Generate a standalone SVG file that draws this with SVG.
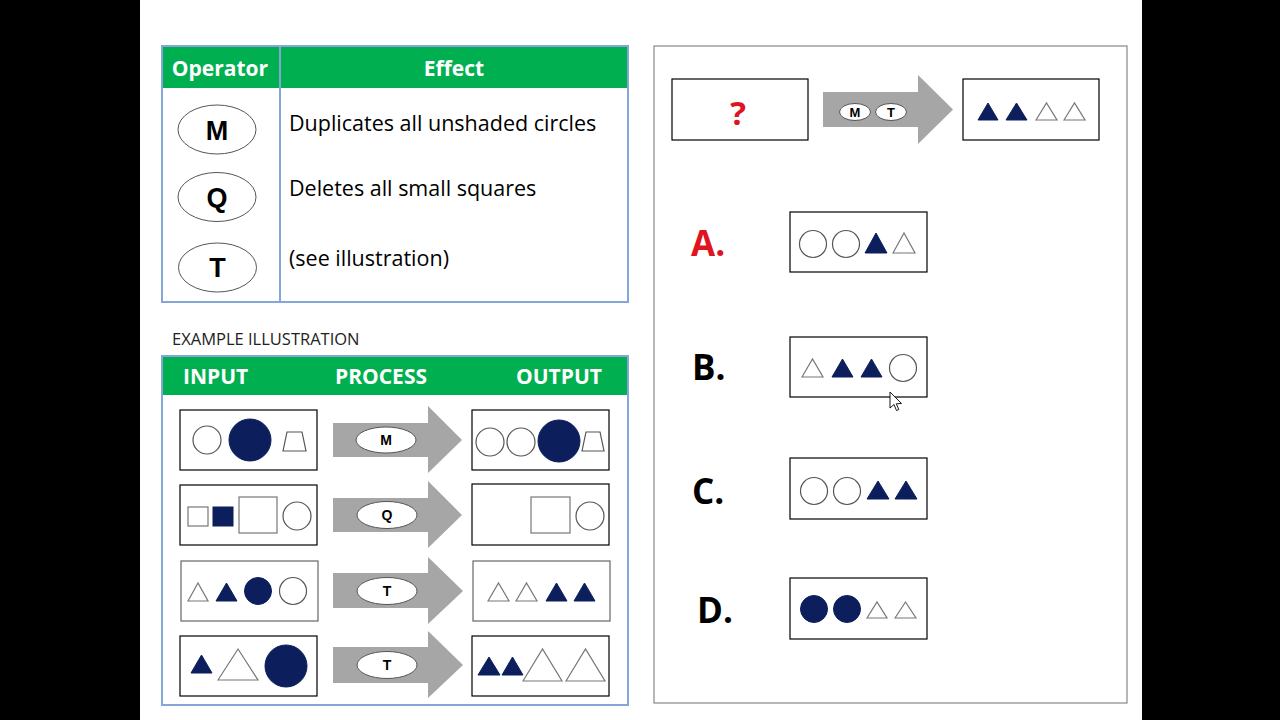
<svg xmlns="http://www.w3.org/2000/svg" width="1280" height="720" viewBox="0 0 1280 720">
<style>
.bar{fill:#000}
.tbl{fill:#fff;stroke:#86a5d8;stroke-width:2}
.hdr{fill:#00b050}
.ht{font-family:"Open Sans",sans-serif;font-weight:bold;fill:#fff;font-size:21px}
.op{fill:#fff;stroke:#555;stroke-width:1}
.opt{font-family:"Liberation Sans",Arial,sans-serif;font-weight:bold;fill:#000;text-anchor:middle}
.eff{font-family:"Open Sans",sans-serif;font-size:21.5px;fill:#000}
.box{fill:#fff;stroke:#000;stroke-width:1.2}
.gbox{fill:#fff;stroke:#666;stroke-width:1.2}
.arr{fill:#a6a6a6}
.nv{fill:#0c1f5c;stroke:#0c1f5c;stroke-width:1}
.op2{fill:#fff;stroke:#555;stroke-width:1.2}
.lt{fill:#fff;stroke:#777;stroke-width:1.2}
.let{font-family:"Open Sans",sans-serif;font-weight:bold;font-size:35px}
</style>
<rect width="1280" height="720" fill="#fff"/>
<rect class="bar" x="0" y="0" width="140" height="720"/>
<rect class="bar" x="1142" y="0" width="138" height="720"/>

<g id="operator-table">
<rect class="tbl" x="162" y="46" width="466" height="256"/>
<rect class="hdr" x="163" y="47" width="464" height="41"/>
<line x1="280" y1="47" x2="280" y2="301" stroke="#86a5d8" stroke-width="2"/>
<text class="ht" x="220" y="76" text-anchor="middle">Operator</text>
<text class="ht" x="454" y="76" text-anchor="middle">Effect</text>
<ellipse class="op" cx="217" cy="129.5" rx="39" ry="24.5"/>
<text class="opt" x="217" y="139.5" font-size="27">M</text>
<ellipse class="op" cx="217" cy="197" rx="39" ry="24.5"/>
<text class="opt" x="217" y="206.5" font-size="27">Q</text>
<ellipse class="op" cx="217.5" cy="267.5" rx="39" ry="24.5"/>
<text class="opt" x="217.5" y="277" font-size="27">T</text>
<text class="eff" x="289" y="131">Duplicates all unshaded circles</text>
<text class="eff" x="289" y="196">Deletes all small squares</text>
<text class="eff" x="289" y="266">(see illustration)</text>
</g>

<text id="example-label" x="172" y="345" font-family="Open Sans, sans-serif" font-size="16.5px" fill="#222">EXAMPLE ILLUSTRATION</text>

<g id="example-table">
<rect class="tbl" x="162" y="356" width="466" height="349"/>
<rect class="hdr" x="163" y="357" width="464" height="38"/>
<text class="ht" x="183" y="384">INPUT</text>
<text class="ht" x="381" y="384" text-anchor="middle">PROCESS</text>
<text class="ht" x="602" y="384" text-anchor="end">OUTPUT</text>
</g>

<g id="row1">
<rect class="box" x="180" y="410" width="137" height="60"/>
<circle class="op2" cx="207" cy="440" r="14"/>
<circle class="nv" cx="250" cy="440" r="21"/>
<polygon class="op2" points="283,451 287,432 302,432 306,451"/>
<path class="arr" d="M333,423 H428 V406 L462,440 L428,473 V457 H333 Z"/>
<ellipse class="op" cx="386" cy="440" rx="30" ry="13"/>
<text class="opt" x="386" y="445" font-size="14">M</text>
<rect class="box" x="472" y="410" width="137" height="60"/>
<circle class="op2" cx="490" cy="442" r="14"/>
<circle class="op2" cx="521" cy="442" r="14"/>
<circle class="nv" cx="559" cy="441" r="21"/>
<polygon class="op2" points="582,451 586,432 600,432 604,451"/>
</g>

<g id="row2">
<rect class="box" x="180" y="485" width="137" height="60"/>
<rect class="lt" x="188" y="507" width="20" height="19"/>
<rect class="nv" x="213" y="507" width="20" height="19"/>
<rect class="lt" x="239" y="497" width="38" height="36"/>
<circle class="op2" cx="297" cy="516" r="14"/>
<path class="arr" d="M333,498 H428 V481 L462,515 L428,548 V532 H333 Z"/>
<ellipse class="op" cx="387" cy="515" rx="30" ry="13.5"/>
<text class="opt" x="387" y="520" font-size="14">Q</text>
<rect class="box" x="472" y="484" width="137" height="61"/>
<rect class="lt" x="531" y="497" width="39" height="36"/>
<circle class="op2" cx="590" cy="516" r="14"/>
</g>

<g id="row3">
<rect class="gbox" x="181" y="561" width="137" height="60"/>
<polygon class="lt" points="188,601 198,583 208,601"/>
<polygon class="nv" points="216,601 226.5,583 237,601"/>
<circle class="nv" cx="258" cy="591" r="13.5"/>
<circle class="op2" cx="293" cy="591" r="13.5"/>
<path class="arr" d="M333,573 H428 V557 L463,591 L428,624 V608 H333 Z"/>
<ellipse class="op" cx="387" cy="591" rx="30" ry="13.5"/>
<text class="opt" x="387" y="596" font-size="14">T</text>
<rect class="gbox" x="473" y="561" width="137" height="60"/>
<polygon class="lt" points="488,601 498.5,583 509,601"/>
<polygon class="lt" points="516,601 526.5,583 537,601"/>
<polygon class="nv" points="546,601 556.5,583 567,601"/>
<polygon class="nv" points="574,601 584.5,583 595,601"/>
</g>

<g id="row4">
<rect class="box" x="180" y="636" width="137" height="60"/>
<polygon class="nv" points="191,673 201.5,655 212,673"/>
<polygon class="lt" points="218,680 238,649 258,680"/>
<circle class="nv" cx="286" cy="666" r="21"/>
<path class="arr" d="M333,647 H428 V631 L463,665 L428,698 V683 H333 Z"/>
<ellipse class="op" cx="387" cy="665" rx="30" ry="13.5"/>
<text class="opt" x="387" y="670" font-size="14">T</text>
<rect class="box" x="472" y="636" width="137" height="60"/>
<polygon class="nv" points="478,675 489,657 500,675"/>
<polygon class="nv" points="502,675 512.5,657 523,675"/>
<polygon class="lt" points="523,681 542.5,649 562,681"/>
<polygon class="lt" points="566,681 585.5,649 605,681"/>
</g>

<g id="question-panel">
<rect x="654" y="46" width="473" height="657" fill="#fff" stroke="#888" stroke-width="1.2"/>
</g>

<g id="question">
<rect class="box" x="672" y="79" width="136" height="61"/>
<text x="738" y="125" text-anchor="middle" font-family="Open Sans, sans-serif" font-weight="bold" font-size="33" fill="#e0141e">?</text>
<path class="arr" d="M823,92 H918 V75 L953,109.5 L918,144 V127 H823 Z"/>
<ellipse class="op" cx="855" cy="112" rx="15.5" ry="8.5"/>
<text class="opt" x="855" y="117" font-size="13">M</text>
<ellipse class="op" cx="891" cy="112" rx="15.5" ry="8.5"/>
<text class="opt" x="891" y="117" font-size="13">T</text>
<rect class="box" x="963" y="79" width="136" height="61"/>
<polygon class="nv" points="978,120 988,103 998,120"/>
<polygon class="nv" points="1006,120 1016.5,103 1027,120"/>
<polygon class="lt" points="1036,120 1046.5,103 1057,120"/>
<polygon class="lt" points="1064,120 1074.5,103 1085,120"/>
</g>

<g id="option-a">
<text class="let" x="691" y="256" fill="#e0141e">A.</text>
<rect class="box" x="790" y="212" width="137" height="60"/>
<circle class="op2" cx="813" cy="244" r="13.5"/>
<circle class="op2" cx="846" cy="244" r="13.5"/>
<polygon class="nv" points="865,253 876,233 887,253"/>
<polygon class="lt" points="893,253 904,233 915,253"/>
</g>

<g id="option-b">
<text class="let" x="692" y="380" fill="#000">B.</text>
<rect class="box" x="790" y="337" width="137" height="60"/>
<polygon class="lt" points="802,377 812.5,359 823,377"/>
<polygon class="nv" points="832,377 842.5,359 853,377"/>
<polygon class="nv" points="861,377 871.5,359 882,377"/>
<circle class="op2" cx="903" cy="368" r="13.5"/>
</g>

<g id="option-c">
<text class="let" x="692" y="504" fill="#000">C.</text>
<rect class="box" x="790" y="458" width="137" height="61"/>
<circle class="op2" cx="814" cy="491" r="13.5"/>
<circle class="op2" cx="847" cy="491" r="13.5"/>
<polygon class="nv" points="867,499 878,481 889,499"/>
<polygon class="nv" points="895,499 906,481 917,499"/>
</g>

<g id="option-d">
<text class="let" x="697" y="623" fill="#000">D.</text>
<rect class="box" x="790" y="578" width="137" height="61"/>
<circle class="nv" cx="814" cy="609" r="13.5"/>
<circle class="nv" cx="847" cy="609" r="13.5"/>
<polygon class="lt" points="867,618 877,602 887,618"/>
<polygon class="lt" points="895,618 905.5,602 916,618"/>
</g>

<g id="cursor">
<path d="M890,392 V408 L894,404.5 L896.5,410.5 L898.8,409.5 L896.3,403.8 L901.5,403.5 Z" fill="#fff" stroke="#000" stroke-width="0.9"/>
</g>
</svg>
